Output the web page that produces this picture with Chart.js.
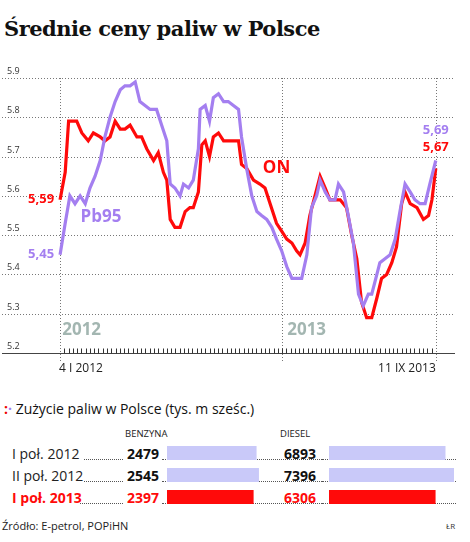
<!DOCTYPE html>
<html><head><meta charset="utf-8">
<script src="https://cdn.jsdelivr.net/npm/chart.js@4"></script>
<style>
body{margin:0;width:470px;height:542px;background:#fff;font-family:"Open Sans",sans-serif;position:relative;overflow:hidden}
.a{position:absolute;white-space:nowrap}
#title{left:4px;top:16px;font:bold 21px "DejaVu Serif",serif;letter-spacing:-0.5px;color:#111}
#sub{left:4px;top:399px;font-size:14px;color:#111}
.hdr{top:427px;font-size:9.5px;color:#222}
.row{font-size:14px;color:#222;left:12px}
.dots{border-bottom:1px dotted #555;position:absolute;height:0}
.val{font-weight:bold;font-size:14px}
</style></head><body>
<div class="a" id="title">Średnie ceny paliw w Polsce</div>
<canvas id="c" class="a" style="left:0;top:60px;width:470px;height:330px"></canvas>
<div class="a" id="sub"><span style="color:#e00;font-weight:bold">:</span><span style="color:#a07ef0;font-weight:bold">·</span> Zużycie paliw w Polsce (tys. m sześc.)</div>
<div class="a hdr" style="left:125px">BENZYNA</div>
<div class="a hdr" style="left:280px">DIESEL</div>
<div id="rows"></div>
<canvas id="b1" class="a" style="left:167px;top:442px;width:96px;height:66px"></canvas>
<canvas id="b2" class="a" style="left:329px;top:442px;width:127px;height:66px"></canvas>
<div class="a" style="left:2px;top:518px;font-size:11px;color:#222">Źródło: E-petrol, POPiHN</div>
<div class="a" style="left:446px;top:520px;font-size:8px;color:#333">ŁR</div>
<script>
const pbWeeks=[0,1.2,2.3,3.5,4.7,5.9,7,8.2,9.4,10.5,11.7,12.9,14.1,15.2,16.4,17.6,18.7,19.9,21.1,22.6,23.8,25,25.8,26.9,28.1,28.9,30.1,31.2,32.4,32.8,34,35,35.9,37.1,38.3,39.4,40.6,41.8,42.5,43.7,44.9,46.1,47.2,48.4,49.6,50.7,51.9,53.1,54.3,55.4,56.6,57.8,58.9,60.1,60.9,62.1,63.2,64.4,65.2,66.4,67.5,68.7,69.9,71,72.2,73,74.2,74.9,76.1,77.3,78.5,79.6,80.8,82,83.1,84.3,85.5,86.6,88];
const pbPrices=[5.45,5.53,5.60,5.58,5.60,5.58,5.62,5.65,5.69,5.75,5.80,5.84,5.87,5.88,5.88,5.89,5.84,5.83,5.82,5.82,5.78,5.74,5.63,5.62,5.60,5.63,5.62,5.64,5.72,5.82,5.83,5.79,5.85,5.86,5.84,5.84,5.83,5.82,5.75,5.67,5.60,5.56,5.55,5.54,5.52,5.49,5.46,5.42,5.39,5.39,5.39,5.45,5.57,5.60,5.64,5.61,5.59,5.59,5.63,5.61,5.55,5.48,5.35,5.32,5.35,5.35,5.40,5.43,5.44,5.45,5.49,5.56,5.63,5.61,5.59,5.58,5.58,5.63,5.69];
const onWeeks=[0,1.2,2,3.9,5.1,6.6,7.8,9.4,10.5,11.7,12.9,14.1,15.2,16.4,18,19.1,20.3,21.9,23,24.2,25,25.8,26.9,28.1,29.3,30.4,31.2,32.4,33.2,34,35,35.9,37.1,38.3,40.6,41.8,42.5,43.7,45.3,46.8,48,49.2,50.7,51.9,53.1,54.3,55.4,56.2,57.4,58.5,59.7,60.9,62.1,63.2,64.4,65.6,67.1,68.3,69.5,70.6,71.8,73,74.2,75.3,76.5,77.7,78.8,80,80.8,82,83.6,85.1,86.3,87.1,88];
const onPrices=[5.59,5.66,5.79,5.79,5.76,5.74,5.76,5.75,5.74,5.75,5.79,5.77,5.77,5.78,5.75,5.75,5.72,5.69,5.71,5.66,5.64,5.54,5.52,5.52,5.56,5.57,5.57,5.61,5.73,5.74,5.70,5.75,5.76,5.74,5.74,5.74,5.68,5.67,5.64,5.63,5.62,5.58,5.53,5.51,5.49,5.48,5.46,5.45,5.48,5.55,5.60,5.65,5.62,5.59,5.59,5.59,5.57,5.50,5.44,5.33,5.29,5.29,5.34,5.39,5.40,5.43,5.47,5.58,5.61,5.58,5.57,5.54,5.55,5.59,5.67];
const yTicks=[5.2,5.3,5.4,5.5,5.6,5.7,5.8,5.9];
const vLines=[0,52,88];
const rowLabels=["I poł. 2012","II poł. 2012","I poł. 2013"];
const benzyna=[2479,2545,2397];
const diesel=[6893,7396,6306];
const RED="#ff0a0a",PUR="#a47ff0",LPUR="#c9c9f9";
const rowColors=[LPUR,LPUR,RED];

const rows=document.getElementById('rows');
rowLabels.forEach((l,i)=>{
  const top=444+i*22, red=i==2;
  const col=red?RED:'#222', w=red?'bold':'normal';
  rows.insertAdjacentHTML('beforeend',
   `<div class="a row" style="top:${top}px;color:${col};font-weight:${w}">${l}</div>
    <div class="dots" style="left:${red?80:84}px;width:${(red?43:39)}px;top:${top+15}px"></div>
    <div class="a val" style="left:127px;top:${top}px;color:${red?RED:'#111'}">${benzyna[i]}</div>
    <div class="dots" style="left:162px;width:166px;top:${top+15}px"></div>
    <div class="a val" style="left:284px;top:${top}px;color:${red?RED:'#111'}">${diesel[i]}</div>
    <div class="dots" style="left:322px;width:134px;top:${top+15}px"></div>`);
});

const deco={id:'deco',beforeDatasetsDraw(ch){
  const c=ch.ctx,x=ch.scales.x,y=ch.scales.y,a=ch.chartArea;
  c.save();
  c.strokeStyle='#777';c.lineWidth=1;c.setLineDash([1,2]);
  yTicks.forEach(t=>{if(t==5.2)return;const p=Math.round(y.getPixelForValue(t))+0.5;c.beginPath();c.moveTo(a.left,p);c.lineTo(a.right,p);c.stroke();});
  vLines.forEach(v=>{const p=Math.round(x.getPixelForValue(v))+0.5;c.beginPath();c.moveTo(p,a.top);c.lineTo(p,a.bottom+8);c.stroke();});
  c.setLineDash([]);
  const b=Math.round(y.getPixelForValue(5.2))+0.5;
  c.strokeStyle='#444';c.beginPath();c.moveTo(a.left,b);c.lineTo(a.right,b);c.stroke();
  c.strokeStyle='#333';
  for(let w=1;w<88;w++){const p=Math.round(x.getPixelForValue(w))+0.5;c.beginPath();c.moveTo(p,b-5);c.lineTo(p,b);c.stroke();}
  c.fillStyle='#333';c.font='9px "Open Sans"';c.textBaseline='bottom';c.textAlign='left';
  yTicks.forEach(t=>c.fillText(t.toFixed(1),7,y.getPixelForValue(t)-2));
  c.fillStyle='#a3b6b1';c.font='bold 17px "Open Sans"';
  c.fillText('2012',x.getPixelForValue(0.5),y.getPixelForValue(5.2)-14);
  c.fillText('2013',x.getPixelForValue(1.2+52),y.getPixelForValue(5.2)-14);
  c.fillStyle='#222';c.font='12px "Open Sans"';c.textBaseline='top';
  c.fillText('4 I 2012',x.getPixelForValue(0)-1,b+9);
  c.textAlign='right';c.fillText('11 IX 2013',x.getPixelForValue(88),b+9);
  c.restore();
},afterDatasetsDraw(ch){
  const c=ch.ctx,x=ch.scales.x,y=ch.scales.y;
  c.save();c.textBaseline='middle';
  c.font='bold 13px "Open Sans"';c.textAlign='right';
  c.fillStyle=RED;c.fillText('5,59',x.getPixelForValue(0)-6,y.getPixelForValue(onPrices[0]));
  c.fillStyle=PUR;c.fillText('5,45',x.getPixelForValue(0)-6,y.getPixelForValue(pbPrices[0]));
  c.textAlign='center';
  c.fillStyle=PUR;c.fillText('5,69',x.getPixelForValue(88),y.getPixelForValue(5.69)-30);
  c.fillStyle=RED;c.fillText('5,67',x.getPixelForValue(88),y.getPixelForValue(5.69)-13);
  c.textAlign='left';c.font='bold 17px "Open Sans"';
  c.fillStyle=PUR;c.fillText('Pb95',x.getPixelForValue(4.8),y.getPixelForValue(5.545));
  c.fillStyle=RED;c.fillText('ON',x.getPixelForValue(47.5),y.getPixelForValue(5.67));
  c.restore();
}};

new Chart(document.getElementById('c'),{type:'line',
 data:{datasets:[
  {data:pbWeeks.map((w,i)=>({x:w,y:pbPrices[i]})),borderColor:PUR,borderWidth:3.2,pointRadius:0,tension:0},
  {data:onWeeks.map((w,i)=>({x:w,y:onPrices[i]})),borderColor:RED,borderWidth:3.2,pointRadius:0,tension:0}]},
 options:{responsive:false,animation:false,layout:{padding:{top:18,bottom:37,left:2,right:15}},
  plugins:{legend:{display:false},tooltip:{enabled:false}},
  scales:{x:{type:'linear',min:-13.6,max:92.5,display:false},y:{min:5.2,max:5.9,display:false}}},
 plugins:[deco]});

function bars(id,vals,max){
 new Chart(document.getElementById(id),{type:'bar',
  data:{labels:rowLabels,datasets:[{data:vals,backgroundColor:rowColors,barPercentage:0.64,categoryPercentage:1}]},
  options:{indexAxis:'y',responsive:false,animation:false,plugins:{legend:{display:false},tooltip:{enabled:false}},
   scales:{x:{min:0,max:max,display:false},y:{display:false}}}});
}
bars('b1',benzyna,2657);
bars('b2',diesel,7515);
</script></body></html>
